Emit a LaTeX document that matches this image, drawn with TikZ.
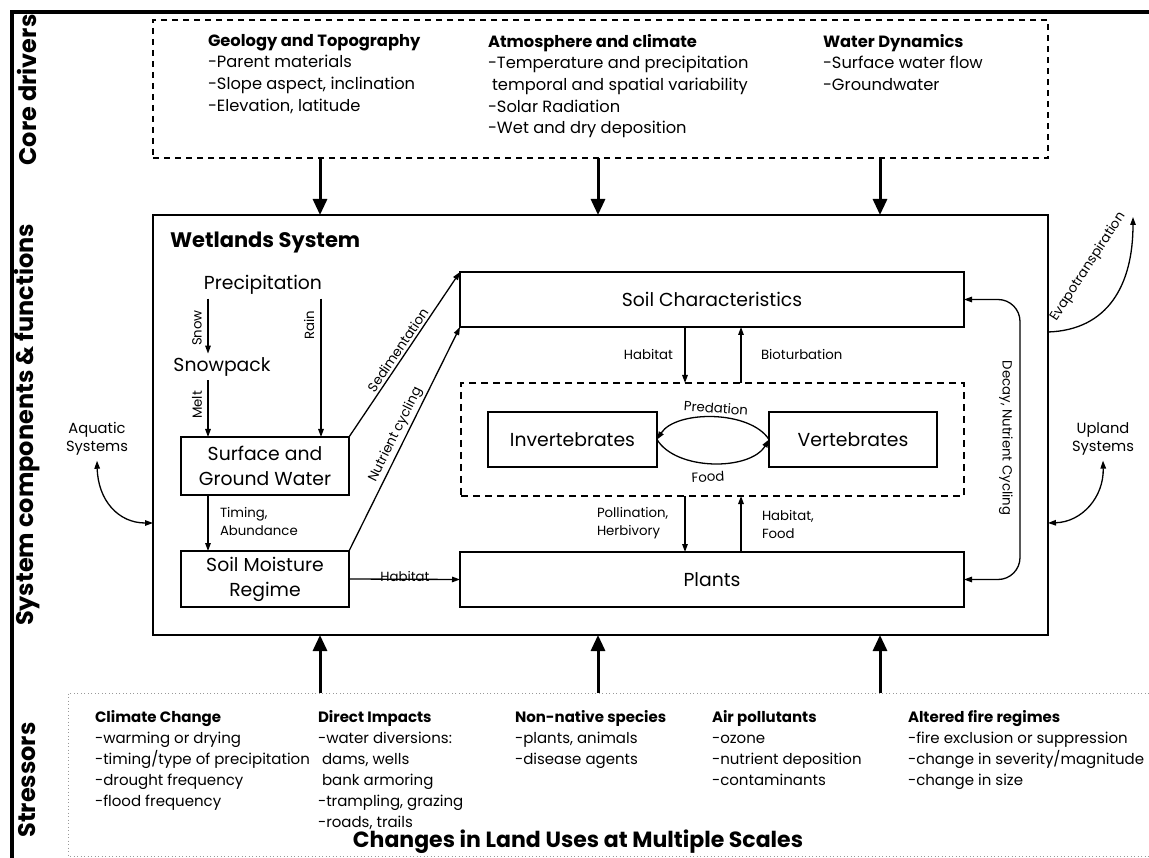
\documentclass[tikz,border=0pt]{standalone}
\usepackage{fontspec}
\setmainfont{Poppins}
\usetikzlibrary{arrows.meta}
\newcommand{\topfont}{\fontsize{16.3}{21.7}\selectfont}
\newcommand{\bodyfont}{\fontsize{15}{21}\selectfont}
\newcommand{\nodefont}{\fontsize{18.8}{25}\selectfont}
\newcommand{\smallfont}{\fontsize{13.3}{18}\selectfont}
\newcommand{\sysfont}{\fontsize{14.7}{18.5}\selectfont}
\newcommand{\titlefont}{\fontsize{21}{25}\selectfont\bfseries}
\newcommand{\landfont}{\fontsize{22}{26}\selectfont\bfseries}
\newcommand{\sidefont}{\fontsize{24}{28}\selectfont\bfseries}
\begin{document}
\begin{tikzpicture}[x=1pt,y=-1pt,
  every node/.style={inner sep=0pt,outer sep=0pt},
  box/.style={draw,line width=1.4pt,align=center,font=\nodefont},
  plain/.style={font=\nodefont,inner sep=4pt},
  col/.style={align=left,font=\bodyfont,anchor=north west},
  tcol/.style={align=left,font=\topfont,anchor=north west},
  lbl/.style={font=\smallfont},
  arr/.style={line width=1.3pt,-{Triangle[length=8pt,width=5.5pt]}},
  dbl/.style={line width=1.3pt,{Triangle[length=8pt,width=5.5pt]}-{Triangle[length=8pt,width=5.5pt]}},
  fat/.style={line width=3pt,-{Triangle[length=16pt,width=14pt]}},
  dash1/.style={draw,line width=1.2pt,dash pattern=on 6pt off 5pt},
]
\useasboundingbox (0,0) rectangle (1149,858);
\fill[white] (0,0) rectangle (1149,858);
% frame
\draw[line width=4pt] (12,858) -- (12,12) -- (1149,12);
\node[font=\sidefont,rotate=90] (lcore) at (27,90) {Core drivers};
\node[font=\sidefont,rotate=90] (lsys) at (27,425) {System components \& functions};
\node[font=\sidefont,rotate=90] (lstr) at (27,780) {Stressors};

% core drivers
\node[dash1,minimum width=895pt,minimum height=138pt] (drivers) at (600.5,89) {};
\node[tcol] (geo) at (208,34) {\textbf{Geology and Topography}\\-Parent materials\\-Slope aspect, inclination\\-Elevation, latitude};
\node[tcol] (atm) at (488,34) {\textbf{Atmosphere and climate}\\-Temperature and precipitation\\\hspace*{4pt}temporal and spatial variability\\-Solar Radiation\\-Wet and dry deposition};
\node[tcol] (wat) at (823,34) {\textbf{Water Dynamics}\\-Surface water flow\\-Groundwater};

% wetlands system
\node[draw,line width=1.4pt,minimum width=895pt,minimum height=420pt] (wet) at (600.5,425) {};
\node[anchor=west,font=\titlefont] (wettitle) at (170,243) {Wetlands System};

\coordinate (x1) at (320,0);
\coordinate (x2) at (598,0);
\coordinate (x3) at (880,0);
\draw[fat] (drivers.south -| x1) -- (wet.north -| x1);
\draw[fat] (drivers.south -| x2) -- (wet.north -| x2);
\draw[fat] (drivers.south -| x3) -- (wet.north -| x3);

\node[plain] (precip) at (263,285) {Precipitation};
\node[plain] (snow) at (222,367) {Snowpack};
\node[box,minimum width=168pt,minimum height=58pt] (surf) at (265,466) {Surface and\\Ground Water};
\node[box,minimum width=168pt,minimum height=56pt] (moist) at (265,579) {Soil Moisture\\Regime};
\node[box,minimum width=504pt,minimum height=55pt] (soil) at (712,299.5) {Soil Characteristics};
\node[box,minimum width=504pt,minimum height=55pt] (plants) at (712,579.5) {Plants};
\node[dash1,dash pattern=on 7pt off 5pt,minimum width=503pt,minimum height=113pt] (fauna) at (712.5,439.5) {};
\node[box,minimum width=169pt,minimum height=55pt] (inv) at (572.5,439.5) {Invertebrates};
\node[box,minimum width=168pt,minimum height=55pt] (vert) at (853,439.5) {Vertebrates};

\coordinate (sx) at (208,0);
\coordinate (rx) at (321,0);
\draw[arr] (precip.south -| sx) -- (snow.north -| sx);
\draw[arr] (precip.south -| rx) -- (surf.north -| rx);
\draw[arr] (snow.south -| sx) -- (surf.north -| sx);
\draw[arr] (surf.south -| sx) -- (moist.north -| sx);
\node[lbl,rotate=90] (lsnow) at (197,328) {Snow};
\node[lbl,rotate=90] (lrain) at (309,325) {Rain};
\node[lbl,rotate=90] (lmelt) at (197,405) {Melt};
\node[lbl,anchor=west,align=left] (ltim) at (220,521) {Timing,\\Abundance};

\draw[arr] (surf.north east) -- (soil.north west) node[lbl,sloped,above=3pt,pos=0.5] {Sedimentation};
\draw[arr] (moist.north east) -- (soil.south west) node[lbl,sloped,above=3pt,pos=0.5] {Nutrient cycling};
\draw[arr] (moist.east) -- (plants.west);
\node[lbl,anchor=south] (lhab0) at (405,582) {Habitat};

\coordinate (xa) at (685,0);
\coordinate (xb) at (741,0);
\draw[arr] (soil.south -| xa) -- (fauna.north -| xa);
\draw[arr] (fauna.north -| xb) -- (soil.south -| xb);
\draw[arr] (fauna.south -| xa) -- (plants.north -| xa);
\draw[arr] (plants.north -| xb) -- (fauna.south -| xb);
\node[lbl,anchor=east] (lhab1) at (673,355) {Habitat};
\node[lbl,anchor=west] (lbio) at (761,355) {Bioturbation};
\node[lbl,anchor=west,align=left] (lpol) at (597,523) {Pollination,\\Herbivory};
\node[lbl,anchor=west,align=left] (lhf) at (762,524) {Habitat,\\Food};

\draw[arr] (vert.west) .. controls (750,410) and (676,410) .. (inv.east);
\draw[arr] (inv.east) .. controls (676,471) and (750,471) .. (vert.west);
\node[lbl,rotate=-4] (lpred) at (716,408) {Predation};
\node[lbl,rotate=3] (lfood) at (708,477) {Food};

\coordinate (dk) at (1020,440);
\draw[dbl,rounded corners=22pt] (plants.east) -| (dk) |- (soil.east);
\node[lbl,rotate=-90] (ldecay) at (1006,438) {Decay, Nutrient Cycling};

% evapotranspiration
\coordinate (e0) at (1048,332);
\coordinate (e1) at (1133,217);
\draw[arr] (e0) .. controls (1108,330) and (1133,285) .. (e1);
\node[lbl,rotate=57] (levap) at (1088,267) {Evapotranspiration};

% aquatic / upland
\node[font=\sysfont,align=center] (aq) at (97,439) {Aquatic\\Systems};
\coordinate (aqe) at (153,523);
\draw[dbl] ([yshift=-5pt]aq.south) .. controls (98,500) and (118,523) .. (aqe);
\node[font=\sysfont,align=center] (up) at (1103,439) {Upland\\Systems};
\coordinate (upe) at (1048,523);
\draw[dbl] ([yshift=-5pt]up.south) .. controls (1104,497) and (1082,522) .. (upe);

% stressors
\node[minimum width=1081pt,minimum height=163pt] (stress) at (608.5,774.5) {};
\draw[line width=1pt,gray!80,dash pattern=on 1pt off 2.5pt] (stress.north east) -- (stress.north west) -- (stress.south west) -- (stress.south east);
\draw[fat] (stress.north -| x1) -- (wet.south -| x1);
\draw[fat] (stress.north -| x2) -- (wet.south -| x2);
\draw[fat] (stress.north -| x3) -- (wet.south -| x3);

\node[col] (clim) at (95,710) {\textbf{Climate Change}\\-warming or drying\\-timing/type of precipitation\\-drought frequency\\-flood frequency};
\node[col] (dir) at (318,710) {\textbf{Direct Impacts}\\-water diversions:\\\hspace*{4pt}dams, wells\\\hspace*{4pt}bank armoring\\-trampling, grazing\\-roads, trails};
\node[col] (nonn) at (515,710) {\textbf{Non-native species}\\-plants, animals\\-disease agents};
\node[col] (air) at (712,710) {\textbf{Air pollutants}\\-ozone\\-nutrient deposition\\-contaminants};
\node[col] (fire) at (908,710) {\textbf{Altered fire regimes}\\-fire exclusion or suppression\\-change in severity/magnitude\\-change in size};
\node[font=\landfont] (land) at (578,842) {Changes in Land Uses at Multiple Scales};
\end{tikzpicture}
\end{document}
